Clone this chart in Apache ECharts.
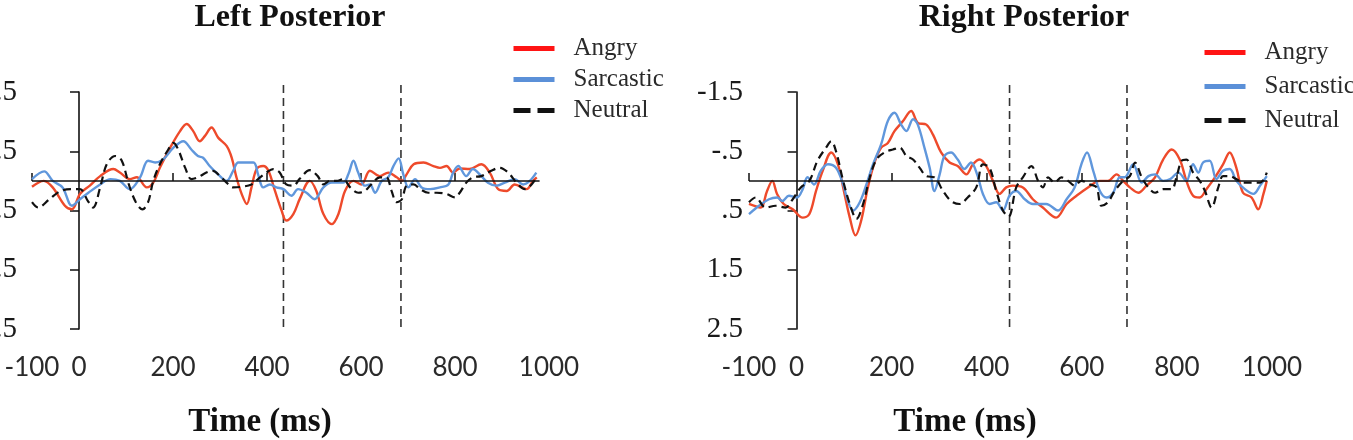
<!DOCTYPE html>
<html>
<head>
<meta charset="utf-8">
<title>Left / Right Posterior</title>
<script src="https://cdn.jsdelivr.net/npm/echarts@6/dist/echarts.min.js"></script>
<style>
  html, body { margin: 0; padding: 0; background: #fff; }
  #chart { width: 1353px; height: 440px; }
</style>
</head>
<body>
<div id="chart"></div>
<script>
// [time ms, amplitude] (y axis is inverted: negative up)
const leftAngry = [[-100,0.1],[-75,0.0],[-56,0.11],[-30,0.42],[-15,0.48],[2,0.22],[23,0.08],[45,-0.08],[73,-0.2],[87,-0.14],[108,-0.03],[123,-0.06],[144,0.11],[158,0.03],[172,-0.22],[194,-0.56],[215,-0.84],[229,-0.96],[243,-0.84],[257,-0.67],[268,-0.76],[282,-0.9],[296,-0.73],[314,-0.59],[325,-0.39],[335,-0.06],[346,0.22],[357,0.39],[367,0.11],[378,-0.2],[392,-0.25],[403,-0.17],[417,0.17],[431,0.5],[441,0.67],[456,0.56],[470,0.3],[491,0],[505,0.17],[520,0.56],[538,0.73],[552,0.56],[566,0.17],[584,0],[601,0.06],[619,-0.17],[640,-0.08],[658,-0.14],[676,-0.06],[687,0],[697,-0.11],[712,-0.28],[733,-0.31],[754,-0.25],[768,-0.22],[782,-0.25],[796,-0.14],[810,-0.21],[831,-0.2],[856,-0.28],[874,-0.14],[892,0.14],[910,0.17],[927,0.06],[952,0.14],[966,0],[974,-0.06]];
const leftSarcastic = [[-100,-0.03],[-74,-0.16],[-56,0],[-35,0.11],[-15,0.42],[2,0.31],[20,0.2],[45,0.06],[67,-0.03],[87,0],[108,0.14],[130,-0.06],[147,-0.34],[162,-0.31],[179,-0.36],[201,-0.56],[222,-0.67],[239,-0.53],[253,-0.42],[264,-0.39],[278,-0.25],[296,-0.11],[314,0],[328,-0.17],[339,-0.31],[371,-0.31],[381,-0.11],[392,0.11],[406,0.06],[420,0.11],[435,0.14],[452,0.25],[466,0.14],[484,0.2],[501,0.31],[520,0.11],[538,0.03],[562,0.03],[573,-0.11],[584,-0.34],[594,-0.14],[608,0.08],[619,0.06],[630,0.2],[644,0],[658,-0.06],[669,-0.25],[680,-0.38],[690,-0.11],[701,0.11],[715,-0.03],[729,0.11],[747,0.14],[768,0.11],[786,0.06],[796,-0.14],[807,-0.25],[824,-0.08],[838,-0.2],[856,-0.08],[870,0.03],[888,0.08],[906,0.03],[927,-0.03],[945,0.06],[959,0],[973,-0.14]];
const leftNeutral = [[-100,0.36],[-87,0.45],[-63,0.31],[-39,0.17],[-15,0.14],[2,0.14],[19,0.34],[30,0.45],[45,0.11],[59,-0.28],[77,-0.42],[91,-0.34],[106,0.06],[121,0.36],[135,0.48],[147,0.36],[158,0],[172,-0.28],[190,-0.53],[201,-0.64],[211,-0.53],[226,-0.22],[239,-0.03],[253,-0.06],[271,-0.14],[285,-0.17],[300,-0.08],[314,0.03],[328,0.11],[346,0.1],[367,0.06],[381,-0.03],[399,-0.14],[413,-0.2],[427,-0.14],[441,0.06],[456,0.08],[470,-0.04],[491,-0.18],[508,-0.08],[520,0.06],[534,0],[548,0],[562,-0.03],[577,0.11],[594,0.2],[608,0.17],[622,0.06],[640,-0.06],[654,-0.06],[665,0.17],[676,0.36],[687,0.31],[697,0.08],[712,0.06],[726,0.14],[743,0.2],[761,0.2],[782,0.22],[800,0.28],[810,0.2],[824,0.03],[838,-0.06],[856,-0.08],[877,-0.17],[895,-0.22],[913,-0.14],[931,0.03],[949,0.14],[963,0.06],[974,-0.06]];

const rightAngry = [[-100,0.39],[-76,0.45],[-62,0.17],[-51,0],[-41,0.22],[-27,0.39],[-8,0.48],[13,0.62],[27,0.56],[41,0.17],[55,-0.17],[73,-0.48],[87,-0.28],[98,0.11],[112,0.62],[124,0.92],[136,0.67],[150,0.11],[164,-0.31],[178,-0.56],[192,-0.64],[206,-0.84],[224,-1.01],[241,-1.18],[255,-0.98],[273,-0.95],[287,-0.78],[304,-0.48],[322,-0.31],[339,-0.25],[357,-0.11],[371,-0.28],[385,-0.36],[399,-0.25],[413,0],[427,0.22],[441,0.11],[455,0.08],[476,0.11],[497,0.31],[518,0.45],[546,0.62],[568,0.39],[589,0.25],[613,0.11],[638,0],[655,0],[673,-0.11],[687,0],[701,0.11],[719,0.2],[736,0.08],[754,-0.06],[771,-0.36],[789,-0.53],[806,-0.36],[820,0],[834,0.25],[848,0.28],[862,0.14],[880,-0.06],[897,-0.28],[911,-0.48],[925,-0.22],[939,0.2],[957,0.28],[971,0.48],[982,0.22],[989,0]];
const rightSarcastic = [[-100,0.56],[-79,0.42],[-58,0.31],[-41,0.28],[-30,0.34],[-16,0.25],[1,0.28],[13,0.14],[23,-0.06],[37,0.06],[51,-0.17],[66,-0.28],[83,-0.22],[98,0.06],[108,0.34],[119,0.5],[133,0.36],[147,0.06],[161,-0.28],[178,-0.62],[192,-1.01],[206,-1.15],[220,-0.95],[231,-0.84],[245,-1.04],[255,-0.95],[269,-0.56],[280,-0.22],[290,0.17],[301,-0.11],[311,-0.42],[325,-0.48],[339,-0.36],[353,-0.2],[367,-0.31],[381,-0.08],[392,0.22],[406,0.39],[420,0.36],[434,0.5],[448,0.25],[462,0.17],[480,0.31],[497,0.39],[525,0.39],[550,0.5],[568,0.31],[585,0.11],[599,-0.28],[611,-0.48],[624,-0.17],[638,0.17],[652,0.28],[666,0.2],[680,-0.06],[690,-0.06],[708,-0.28],[726,0.03],[740,-0.08],[754,-0.11],[771,0],[786,-0.03],[803,-0.14],[820,0],[834,-0.28],[845,-0.14],[855,-0.31],[869,-0.34],[883,-0.03],[897,-0.17],[911,-0.2],[925,0],[943,0.14],[961,0.22],[975,0.08],[989,-0.08]];
const rightNeutral = [[-100,0.36],[-86,0.28],[-65,0.45],[-44,0.42],[-23,0.45],[-8,0.31],[9,0.11],[27,0],[44,-0.34],[62,-0.56],[73,-0.67],[83,-0.5],[98,0],[112,0.39],[126,0.64],[140,0.39],[154,-0.06],[168,-0.36],[185,-0.48],[203,-0.53],[217,-0.56],[231,-0.42],[245,-0.36],[259,-0.22],[273,-0.08],[290,-0.06],[308,0.17],[325,0.34],[343,0.39],[360,0.28],[378,0.11],[392,-0.28],[406,-0.22],[420,0.17],[434,0.5],[446,0.6],[462,0.11],[476,-0.06],[494,-0.25],[508,0],[518,0.11],[529,-0.06],[543,0.03],[557,-0.06],[571,0],[585,0.08],[599,0],[617,0.06],[631,0.11],[641,0.42],[655,0.36],[669,0.17],[687,0],[701,-0.08],[712,-0.31],[726,-0.06],[740,0.11],[754,0.2],[771,0.14],[789,0.14],[799,-0.06],[810,-0.34],[820,-0.36],[834,-0.14],[848,0],[859,0.17],[873,0.45],[887,0.11],[897,-0.08],[911,-0.08],[925,-0.03],[939,0.03],[961,0.03],[975,0.03],[989,-0.14]];

const panelTitles = ["Left Posterior", "Right Posterior"];
const seriesNames = ["Angry", "Sarcastic", "Neutral"];
const xLabelValues = [-100, 0, 200, 400, 600, 800, 1000];
const xTickValues = [-100, 200, 400, 600, 800];
const windowLines = [[435, 685], [448, 695]]; // dashed vertical markers (ms)
const windowSpan = [-1.62, 2.55];               // their vertical extent
const dataEnd = [980, 990];

const lineColors = ["#ee4a2b", "#6097dc", "#111111"];
const legendColors = ["#ff1414", "#5b90d8", "#111111"];
const serif = "'Liberation Serif', 'Times New Roman', serif";

const chart = echarts.init(document.getElementById("chart"));

const grids = [
  { left: 32, right: 804, top: 92, bottom: 111, outerBoundsMode: "none", containLabel: false },
  { left: 749, right: 81, top: 92, bottom: 111, outerBoundsMode: "none", containLabel: false }
];

const yFmt = function (v) {
  return String(v).replace("0.", ".");
};

const xAxes = [];
const yAxes = [];
grids.forEach(function (g, i) {
  xAxes.push({
    type: "value", gridIndex: i, min: -100, max: 1000, position: "bottom",
    axisLine: { show: false, onZero: false },
    axisTick: { show: false },
    splitLine: { show: false },
    axisLabel: {
      customValues: xLabelValues, margin: 26,
      formatter: function (v) { return String(v); },
      fontFamily: "Lato, 'Open Sans', sans-serif", fontSize: 26, color: "#2a2a2a"
    }
  });
  xAxes.push({
    type: "value", gridIndex: i, min: -100, max: 1000, position: "bottom",
    axisLine: { show: false, onZero: true, onZeroAxisIndex: i * 2 },
    axisTick: { show: true, inside: true, length: 8, customValues: xTickValues,
      lineStyle: { color: "#111", width: 1.5 } },
    axisLabel: { show: false },
    splitLine: { show: false }
  });
  yAxes.push({
    type: "value", gridIndex: i, min: -1.5, max: 2.5, interval: 1, inverse: true,
    position: "left",
    axisLine: { show: false, onZero: false },
    axisTick: { show: false },
    splitLine: { show: false },
    axisLabel: {
      margin: i === 0 ? 15 : 6, formatter: yFmt,
      fontFamily: serif, fontSize: 29, color: "#1a1a1a"
    }
  });
  yAxes.push({
    type: "value", gridIndex: i, min: -1.5, max: 2.5, interval: 1, inverse: true,
    position: "left",
    axisLine: { show: true, onZero: true, onZeroAxisIndex: i * 2,
      lineStyle: { color: "#111", width: 1.6 } },
    axisTick: { show: true, length: 9, lineStyle: { color: "#111", width: 1.5 } },
    axisLabel: { show: false },
    splitLine: { show: false }
  });
});

const panelData = [
  [leftAngry, leftSarcastic, leftNeutral],
  [rightAngry, rightSarcastic, rightNeutral]
];

const series = [];
panelData.forEach(function (set, p) {
  // dashed window markers, drawn as plain two-point lines
  windowLines[p].forEach(function (t) {
    series.push({
      name: "window",
      type: "line",
      xAxisIndex: p * 2,
      yAxisIndex: p * 2,
      data: [[t, windowSpan[0]], [t, windowSpan[1]]],
      symbol: "none",
      clip: false,
      silent: true,
      z: 2,
      lineStyle: { color: "#333", width: 1.6, type: [8, 5] }
    });
  });
  set.forEach(function (data, k) {
    const s = {
      name: seriesNames[k],
      type: "line",
      xAxisIndex: p * 2,
      yAxisIndex: p * 2,
      data: data,
      smooth: 0.35,
      symbol: "none",
      clip: false,
      z: 3 + k,
      lineStyle: {
        color: lineColors[k],
        width: k === 2 ? 2.2 : 2.4,
        type: k === 2 ? [8, 5] : "solid"
      },
      itemStyle: { color: lineColors[k] }
    };
    if (k === 0) {
      s.markLine = {
        silent: true,
        symbol: ["none", "none"],
        label: { show: false },
        animation: false,
        data: [
          [{ coord: [-100, 0], lineStyle: { color: "#111", width: 1.6, type: "solid" } },
           { coord: [dataEnd[p], 0] }]
        ]
      };
    }
    series.push(s);
  });
});

const legendData = seriesNames.map(function (n, k) {
  return {
    name: n,
    itemStyle: { color: "rgba(0,0,0,0)", borderWidth: 0, opacity: 0 },
    lineStyle: { color: legendColors[k], width: 5, type: k === 2 ? [17, 7] : "solid" }
  };
});

const legendBase = {
  orient: "vertical",
  itemWidth: 41,
  itemHeight: 14,
  selectedMode: false,
  data: legendData,
  textStyle: {
    fontFamily: serif, fontSize: 25, lineHeight: 25, color: "#2a2a2a",
    padding: [0, 0, 0, 14]
  }
};

const option = {
  animation: false,
  backgroundColor: "#fff",
  title: [
    { text: panelTitles[0], left: 290, top: 2, textAlign: "center", padding: 0,
      textStyle: { fontFamily: serif, fontWeight: "bold", fontSize: 32, color: "#111" } },
    { text: panelTitles[1], left: 1024, top: 2, textAlign: "center", padding: 0,
      textStyle: { fontFamily: serif, fontWeight: "bold", fontSize: 32, color: "#111" } },
    { text: "Time (ms)", left: 260, top: 406, textAlign: "center", padding: 0,
      textStyle: { fontFamily: serif, fontWeight: "bold", fontSize: 33, color: "#111" } },
    { text: "Time (ms)", left: 965, top: 406, textAlign: "center", padding: 0,
      textStyle: { fontFamily: serif, fontWeight: "bold", fontSize: 33, color: "#111" } }
  ],
  legend: [
    Object.assign({}, legendBase, { left: 511, top: 36, itemGap: 6, padding: 0 }),
    Object.assign({}, legendBase, { left: 1202, top: 40, itemGap: 9, padding: 0 })
  ],
  grid: grids,
  xAxis: xAxes,
  yAxis: yAxes,
  series: series
};

chart.setOption(option);
</script>
</body>
</html>
